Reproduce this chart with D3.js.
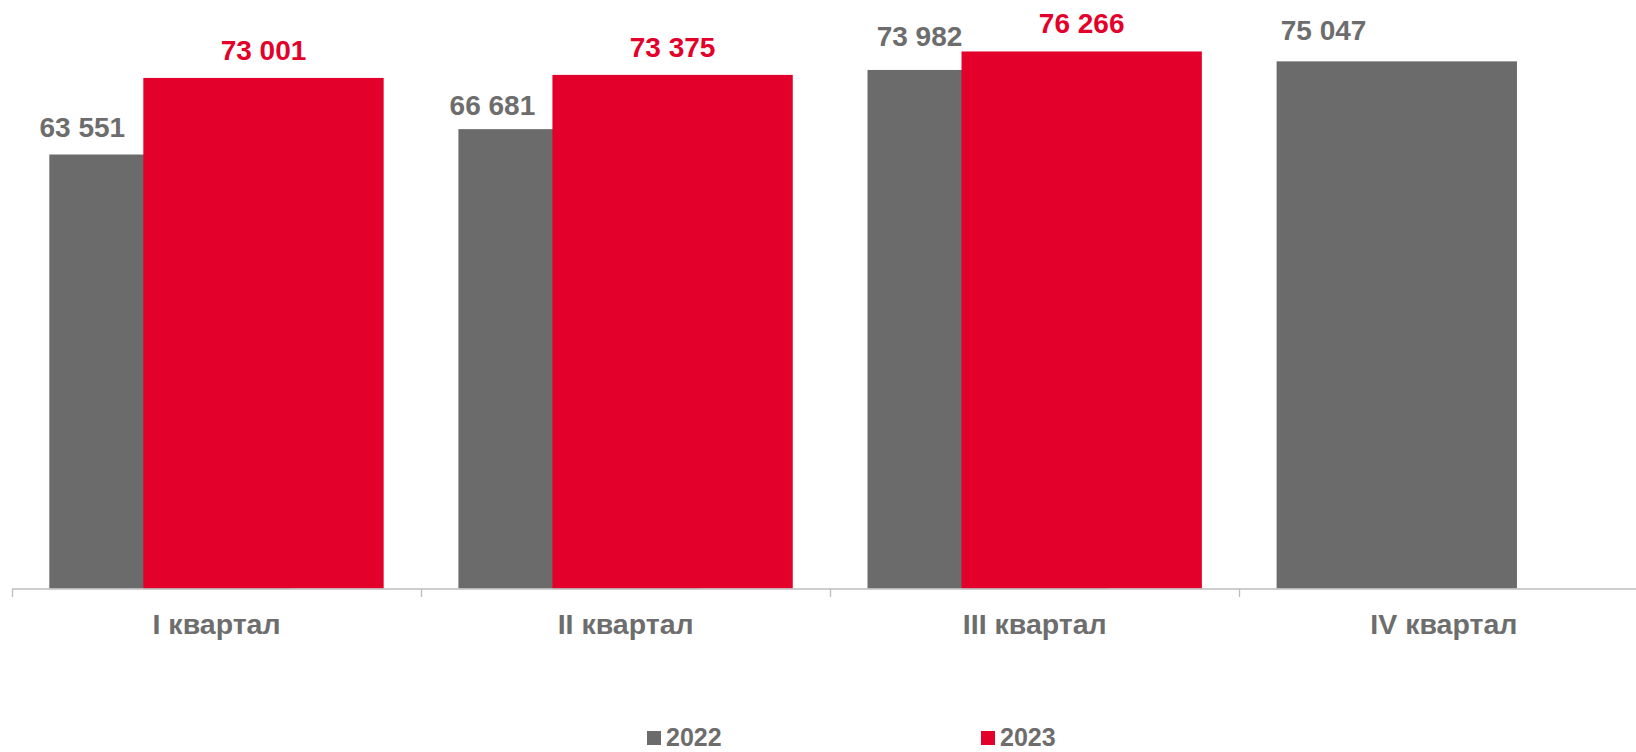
<!DOCTYPE html>
<html>
<head>
<meta charset="utf-8">
<script src="https://cdn.jsdelivr.net/npm/d3@7"></script>
<style>
  html, body { margin: 0; padding: 0; background: #ffffff; }
  svg { display: block; }
  text { font-family: "Liberation Sans", Arial, sans-serif; font-weight: bold; }
</style>
</head>
<body>
<svg id="chart" width="1636" height="752"></svg>
<script>
// ---- data ----
const categories = ["I квартал", "II квартал", "III квартал", "IV квартал"];
const seriesNames = ["2022", "2023"];
const values2022 = [63551, 66681, 73982, 75047];
const values2023 = [73001, 73375, 76266, null];

// ---- layout / style ----
const W = 1636, H = 752;
const colors = { "2022": "#6b6b6b", "2023": "#e3002a" };
const textGray = "#6d6d6d";
const axisColor = "#bdbdbd";
// manual nudges of the 2022 value labels [dx, dy]
const grayNudge = [[-14, 0], [-13, 4], [5, -6], [0, -3]];

const svg = d3.select("#chart");

const x = d3.scaleBand().domain(categories).range([12, 12 + 4 * 409.1]).padding(0);
const y = d3.scaleLinear().domain([10000, 80000]).range([588.5, 21.2]);

const band = x.bandwidth();
const pad = band * 0.0912;      // outer gap inside each category
const barW = band * 0.5875;     // width of each bar
const shift = band * 0.2298;    // offset of 2023 bar relative to 2022 bar

const fmt = d3.formatLocale({ thousands: "\u00a0", grouping: [3], decimal: ",", currency: ["", ""] }).format(",d");

const rows = categories.map((c, i) => ({ c, i, v22: values2022[i], v23: values2023[i] }));

// 2022 bars
svg.append("g").selectAll("rect").data(rows.filter(d => d.v22 != null)).join("rect")
  .attr("x", d => x(d.c) + pad)
  .attr("y", d => y(d.v22))
  .attr("width", barW)
  .attr("height", d => y.range()[0] - y(d.v22))
  .attr("fill", colors["2022"]);

// 2023 bars
svg.append("g").selectAll("rect").data(rows.filter(d => d.v23 != null)).join("rect")
  .attr("x", d => x(d.c) + pad + shift)
  .attr("y", d => y(d.v23))
  .attr("width", barW)
  .attr("height", d => y.range()[0] - y(d.v23))
  .attr("fill", colors["2023"]);

// axis line + boundary ticks
const axisY = y.range()[0] + 0.5;
const ax = svg.append("g").attr("stroke", axisColor).attr("stroke-width", 1.3);
ax.append("line").attr("x1", x.range()[0]).attr("x2", x.range()[1]).attr("y1", axisY).attr("y2", axisY);
ax.selectAll("line.tk").data(categories.map(c => x(c)).concat([x.range()[1]])).join("line")
  .attr("class", "tk")
  .attr("x1", d => Math.round(d) + 0.5).attr("x2", d => Math.round(d) + 0.5)
  .attr("y1", axisY).attr("y2", axisY + 8);

// category labels
svg.append("g").call(d3.axisBottom(x).tickSize(0).tickPadding(0))
  .attr("transform", `translate(0,${y.range()[0]})`)
  .call(g => g.select(".domain").remove())
  .selectAll("text")
  .attr("y", 45.5).attr("dy", null)
  .attr("fill", textGray)
  .style("font-size", "28.5px")
  .style("font-family", "'Liberation Sans', Arial, sans-serif")
  .style("font-weight", "bold");

// value labels 2022
svg.append("g").selectAll("text").data(rows.filter(d => d.v22 != null)).join("text")
  .attr("x", d => x(d.c) + pad + shift / 2 + grayNudge[d.i][0])
  .attr("y", d => y(d.v22) - 18 + grayNudge[d.i][1])
  .attr("text-anchor", "middle")
  .attr("fill", textGray)
  .style("font-size", "28px")
  .text(d => fmt(d.v22));

// value labels 2023
svg.append("g").selectAll("text").data(rows.filter(d => d.v23 != null)).join("text")
  .attr("x", d => x(d.c) + pad + shift + barW / 2)
  .attr("y", d => y(d.v23) - 18)
  .attr("text-anchor", "middle")
  .attr("fill", colors["2023"])
  .style("font-size", "28px")
  .text(d => fmt(d.v23));

// legend
const legendX = [647, 981];
const lg = svg.append("g").selectAll("g").data(seriesNames).join("g")
  .attr("transform", (d, i) => `translate(${legendX[i]},731)`);
lg.append("rect").attr("width", 14).attr("height", 14).attr("fill", d => colors[d]);
lg.append("text").attr("x", 19).attr("y", 15)
  .attr("fill", textGray).style("font-size", "25px").text(d => d);
</script>
</body>
</html>
